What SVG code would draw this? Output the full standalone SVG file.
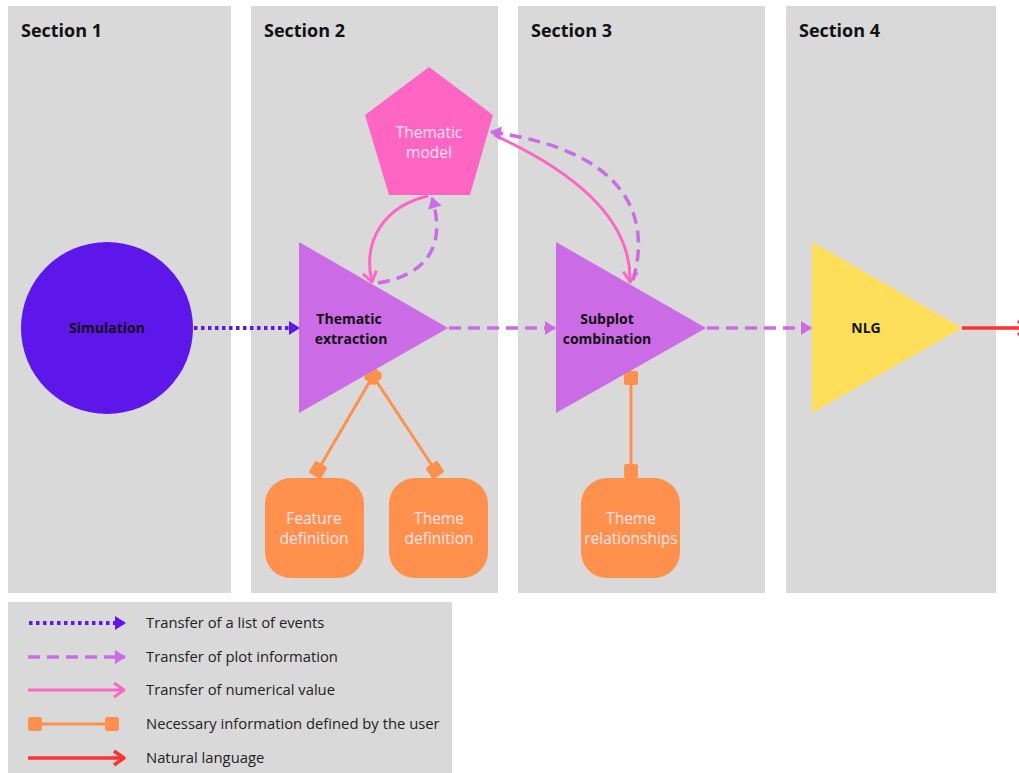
<svg xmlns="http://www.w3.org/2000/svg" width="1019" height="773" viewBox="0 0 1019 773">
<style>
.panel{fill:#D9D9D9}
.hdr{font-family:"Open Sans","Liberation Sans",sans-serif;font-weight:bold;font-size:18px;fill:#111}
.lbl{font-family:"Open Sans","Liberation Sans",sans-serif;font-size:14px;text-anchor:middle}
.blk{font-weight:bold;fill:#111}
.lt{fill:#FFE4EC;font-size:15.5px}
.leg{font-family:"Open Sans","Liberation Sans",sans-serif;font-size:14.8px;fill:#222}
.dot{stroke:#5E17EB;stroke-width:4;stroke-dasharray:3.5 3.5;fill:none}
.dash{stroke:#CB6CE6;stroke-width:3.5;stroke-dasharray:12 7;fill:none}
.pink{stroke:#FF66C4;stroke-width:3;fill:none}
.org{stroke:#FF914D;stroke-width:3;fill:none}
.red{stroke:#FF3131;stroke-width:3.5;fill:none}
</style>
<defs>
<marker id="hBlue" markerUnits="userSpaceOnUse" markerWidth="12" markerHeight="14" refX="10" refY="7" orient="auto" overflow="visible"><path d="M0,0 L11,7 L0,14 z" fill="#5E17EB"/></marker>
<marker id="hPurp" markerUnits="userSpaceOnUse" markerWidth="12" markerHeight="14" refX="10" refY="7" orient="auto" overflow="visible"><path d="M0,0 L11,7 L0,14 z" fill="#CB6CE6"/></marker>
<marker id="hPink" markerUnits="userSpaceOnUse" markerWidth="12" markerHeight="14" refX="10" refY="7" orient="auto" overflow="visible"><path d="M0,0 L10,7 L0,14" fill="none" stroke="#FF66C4" stroke-width="3" stroke-linejoin="round"/></marker>
<marker id="hRed" markerUnits="userSpaceOnUse" markerWidth="12" markerHeight="14" refX="10" refY="7" orient="auto" overflow="visible"><path d="M0,0 L10,7 L0,14" fill="none" stroke="#FF3131" stroke-width="3.5" stroke-linejoin="round"/></marker>
<marker id="sq" markerUnits="userSpaceOnUse" markerWidth="14" markerHeight="14" refX="7" refY="7" orient="auto" overflow="visible"><rect x="0" y="0" width="14" height="14" rx="2" fill="#FF914D"/></marker>
</defs>

<g id="sections">
<rect class="panel" x="8" y="6" width="223" height="587"/>
<rect class="panel" x="251" y="6" width="247" height="587"/>
<rect class="panel" x="518" y="6" width="247" height="587"/>
<rect class="panel" x="786" y="6" width="210" height="587"/>
<text class="hdr" x="21" y="37">Section 1</text>
<text class="hdr" x="264" y="37">Section 2</text>
<text class="hdr" x="531" y="37">Section 3</text>
<text class="hdr" x="799" y="37">Section 4</text>
</g>

<g id="connectors">
<line class="dot" x1="194" y1="328" x2="299" y2="328" marker-end="url(#hBlue)"/>
<line class="dash" x1="449" y1="328" x2="555" y2="328" marker-end="url(#hPurp)"/>
<line class="dash" x1="707" y1="328" x2="811" y2="328" marker-end="url(#hPurp)"/>
<line class="red" x1="962" y1="328" x2="1028" y2="328" marker-end="url(#hRed)"/>
<path class="pink" d="M428,196 C385,206 362,240 372,282" marker-end="url(#hPink)"/>
<path class="dash" d="M378,283 C422,276 448,250 432,198" marker-end="url(#hPurp)"/>
<path class="pink" d="M494,135 C575,172 632,220 630,282" marker-end="url(#hPink)"/>
<path class="dash" d="M633,280 C652,215 625,150 491,132" marker-end="url(#hPurp)"/>
<line class="org" x1="373" y1="376" x2="318" y2="470" marker-start="url(#sq)" marker-end="url(#sq)"/>
<line class="org" x1="373" y1="376" x2="435" y2="470" marker-start="url(#sq)" marker-end="url(#sq)"/>
<line class="org" x1="631" y1="378" x2="631" y2="471" marker-start="url(#sq)" marker-end="url(#sq)"/>
</g>

<g id="simulation">
<circle cx="107" cy="328" r="86" fill="#5E17EB"/>
<text class="lbl blk" x="107" y="333">Simulation</text>
</g>
<g id="thematic-model">
<polygon points="429,67 493,115 470,195 389,195 365,115" fill="#FF66C4"/>
<text class="lbl lt" x="429" y="138">Thematic</text>
<text class="lbl lt" x="429" y="158">model</text>
</g>
<g id="thematic-extraction">
<polygon points="299,242 448,328 299,413" fill="#CB6CE6"/>
<text class="lbl blk" x="349" y="324">Thematic</text>
<text class="lbl blk" x="351" y="344">extraction</text>
</g>
<g id="subplot-combination">
<polygon points="556,242 706,328 556,413" fill="#CB6CE6"/>
<text class="lbl blk" x="607" y="324">Subplot</text>
<text class="lbl blk" x="607" y="344">combination</text>
</g>
<g id="nlg">
<polygon points="812,242 962,328 812,413" fill="#FFDE59"/>
<text class="lbl blk" x="866" y="333">NLG</text>
</g>
<g id="feature-definition">
<rect x="265" y="478" width="99" height="100" rx="26" fill="#FF914D"/>
<text class="lbl lt" x="314" y="524">Feature</text>
<text class="lbl lt" x="314" y="544">definition</text>
</g>
<g id="theme-definition">
<rect x="389" y="478" width="99" height="100" rx="26" fill="#FF914D"/>
<text class="lbl lt" x="439" y="524">Theme</text>
<text class="lbl lt" x="439" y="544">definition</text>
</g>
<g id="theme-relationships">
<rect x="581" y="478" width="99" height="100" rx="26" fill="#FF914D"/>
<text class="lbl lt" x="631" y="524">Theme</text>
<text class="lbl lt" x="631" y="544">relationships</text>
</g>

<g id="legend">
<rect class="panel" x="8" y="602" width="444" height="171"/>
<line class="dot" x1="29" y1="623" x2="125" y2="623" marker-end="url(#hBlue)"/>
<line class="dash" x1="28" y1="657" x2="125" y2="657" marker-end="url(#hPurp)"/>
<line class="pink" x1="28" y1="690" x2="124" y2="690" marker-end="url(#hPink)"/>
<line class="org" x1="35" y1="724" x2="112" y2="724" marker-start="url(#sq)" marker-end="url(#sq)"/>
<line class="red" x1="28" y1="758" x2="124" y2="758" marker-end="url(#hRed)"/>
<text class="leg" x="146" y="628">Transfer of a list of events</text>
<text class="leg" x="146" y="662">Transfer of plot information</text>
<text class="leg" x="146" y="695">Transfer of numerical value</text>
<text class="leg" x="146" y="729">Necessary information defined by the user</text>
<text class="leg" x="146" y="763">Natural language</text>
</g>
</svg>
